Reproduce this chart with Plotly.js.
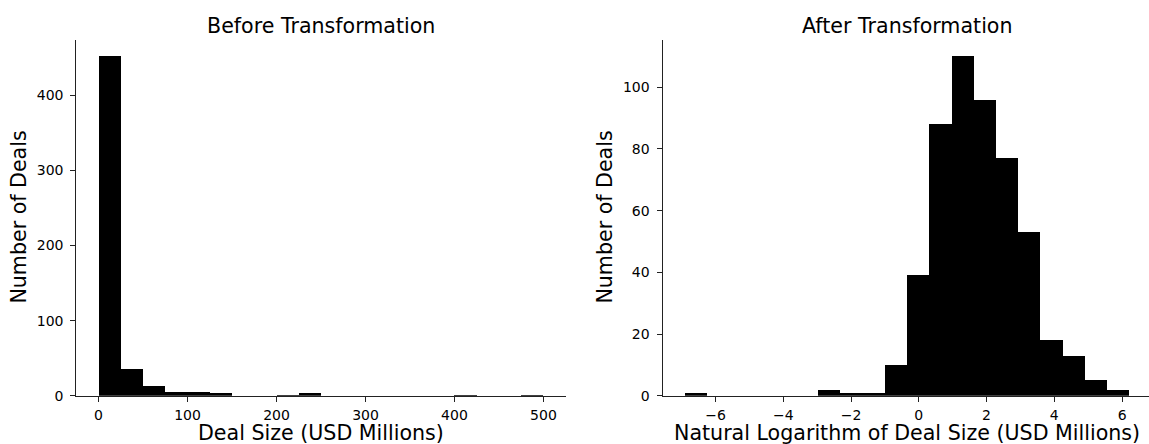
<!DOCTYPE html>
<html>
<head>
<meta charset="utf-8">
<script src="https://cdn.plot.ly/plotly-3.0.1.min.js"></script>
<style>
  html, body { margin: 0; padding: 0; background: #ffffff; }
  #chart { width: 1149px; height: 444px; }
</style>
</head>
<body>
<div id="chart"></div>
<script>
// Deal counts per bin (20 equal-width bins each)
const rawCounts = [452, 35, 13, 5, 5, 3, 0, 0, 1, 3, 0, 0, 0, 0, 0, 0, 1, 0, 0, 1];
const rawExtent = [0.001, 500];          // smallest / largest deal, USD millions
const logCounts = [1, 0, 0, 0, 0, 0, 2, 1, 1, 10, 39, 88, 110, 96, 77, 53, 18, 13, 5, 2];
const logExtent = [-6.908, 6.215];       // ln of smallest / largest deal

const rawXTicks = [0, 100, 200, 300, 400, 500];
const rawYTicks = [0, 100, 200, 300, 400];
const logXTicks = [-6, -4, -2, 0, 2, 4, 6];
const logYTicks = [0, 20, 40, 60, 80, 100];

const titles = ['Before Transformation', 'After Transformation'];
const xTitles = ['Deal Size (USD Millions)', 'Natural Logarithm of Deal Size (USD Millions)'];
const yTitle = 'Number of Deals';

// bin centres and width from the extent of the data
function bins(counts, extent) {
  const w = (extent[1] - extent[0]) / counts.length;
  return { x: counts.map((_, i) => extent[0] + (i + 0.5) * w), w: w };
}
const rawBins = bins(rawCounts, rawExtent);
const logBins = bins(logCounts, logExtent);

const W = 1149, H = 444;
const FONT = 'DejaVu Sans, Verdana, sans-serif';
const TEXT = '#000000';

// plot frames in pixels
const frameTop = 39.5, frameBottom = 395.7;
const leftFrame = [76.3, 565.7];
const rightFrame = [662.5, 1151.6];   // right edge runs slightly past the page

function px2x(p) { return p / W; }
function px2y(p) { return 1 - p / H; }

function withMargin(lo, hi, m) { const d = (hi - lo) * m; return [lo - d, hi + d]; }

const rawXR = withMargin(rawExtent[0], rawExtent[1], 0.05);
const logXFull = withMargin(logExtent[0], logExtent[1], 0.05);
// the visible part of the right frame ends at the page edge
const logXR = [logXFull[0], logXFull[0] + (logXFull[1] - logXFull[0]) * (W - rightFrame[0]) / (rightFrame[1] - rightFrame[0])];

const traces = [
  { type: 'bar', x: rawBins.x, y: rawCounts, width: rawBins.w, xaxis: 'x', yaxis: 'y',
    marker: { color: '#000000', line: { width: 0 } }, hoverinfo: 'x+y' },
  { type: 'bar', x: logBins.x, y: logCounts, width: logBins.w, xaxis: 'x2', yaxis: 'y2',
    marker: { color: '#000000', line: { width: 0 } }, hoverinfo: 'x+y' }
];

function axis(extra) {
  return Object.assign({
    showline: true, linecolor: '#222222', linewidth: 1,
    ticks: 'outside', ticklen: 5, tickwidth: 1, tickcolor: '#222222',
    showgrid: false, zeroline: false, fixedrange: true,
    tickfont: { family: FONT, size: 14, color: TEXT },
    tickmode: 'array'
  }, extra);
}

const yDom = [px2y(frameBottom), px2y(frameTop)];
const titleFont = { family: FONT, size: 20.6, color: TEXT };

const layout = {
  width: W, height: H,
  margin: { l: 0, r: 0, t: 0, b: 0, pad: 0 },
  paper_bgcolor: '#ffffff', plot_bgcolor: '#ffffff',
  showlegend: false, bargap: 0,
  xaxis: axis({ domain: [px2x(leftFrame[0]), px2x(leftFrame[1])], range: rawXR, tickvals: rawXTicks, anchor: 'y', ticklabelstandoff: 1 }),
  yaxis: axis({ domain: yDom, range: [0, Math.max(...rawCounts) * 1.05], tickvals: rawYTicks, anchor: 'x', ticklabelstandoff: 4 }),
  xaxis2: axis({ domain: [px2x(rightFrame[0]), 1], range: logXR, tickvals: logXTicks, anchor: 'y2', ticklabelstandoff: 1 }),
  yaxis2: axis({ domain: yDom, range: [0, Math.max(...logCounts) * 1.05], tickvals: logYTicks, anchor: 'x2', ticklabelstandoff: 4 }),
  annotations: [
    // subplot titles
    { text: titles[0], xref: 'paper', yref: 'paper', x: px2x((leftFrame[0] + leftFrame[1]) / 2), y: px2y(39.5), xanchor: 'center', yanchor: 'bottom', showarrow: false, font: titleFont },
    { text: titles[1], xref: 'paper', yref: 'paper', x: px2x((rightFrame[0] + rightFrame[1]) / 2), y: px2y(39.5), xanchor: 'center', yanchor: 'bottom', showarrow: false, font: titleFont },
    // x-axis titles
    { text: xTitles[0], xref: 'paper', yref: 'paper', x: px2x((leftFrame[0] + leftFrame[1]) / 2), y: px2y(446.5), xanchor: 'center', yanchor: 'bottom', showarrow: false, font: titleFont },
    { text: xTitles[1], xref: 'paper', yref: 'paper', x: px2x((rightFrame[0] + rightFrame[1]) / 2), y: px2y(446.5), xanchor: 'center', yanchor: 'bottom', showarrow: false, font: titleFont },
    // y-axis titles
    { text: yTitle, xref: 'paper', yref: 'paper', x: px2x(19), y: px2y((frameTop + frameBottom) / 2), xanchor: 'center', yanchor: 'middle', textangle: -90, showarrow: false, font: titleFont },
    { text: yTitle, xref: 'paper', yref: 'paper', x: px2x(605), y: px2y((frameTop + frameBottom) / 2), xanchor: 'center', yanchor: 'middle', textangle: -90, showarrow: false, font: titleFont }
  ]
};

Plotly.newPlot('chart', traces, layout, { displayModeBar: false, staticPlot: true });
</script>
</body>
</html>
